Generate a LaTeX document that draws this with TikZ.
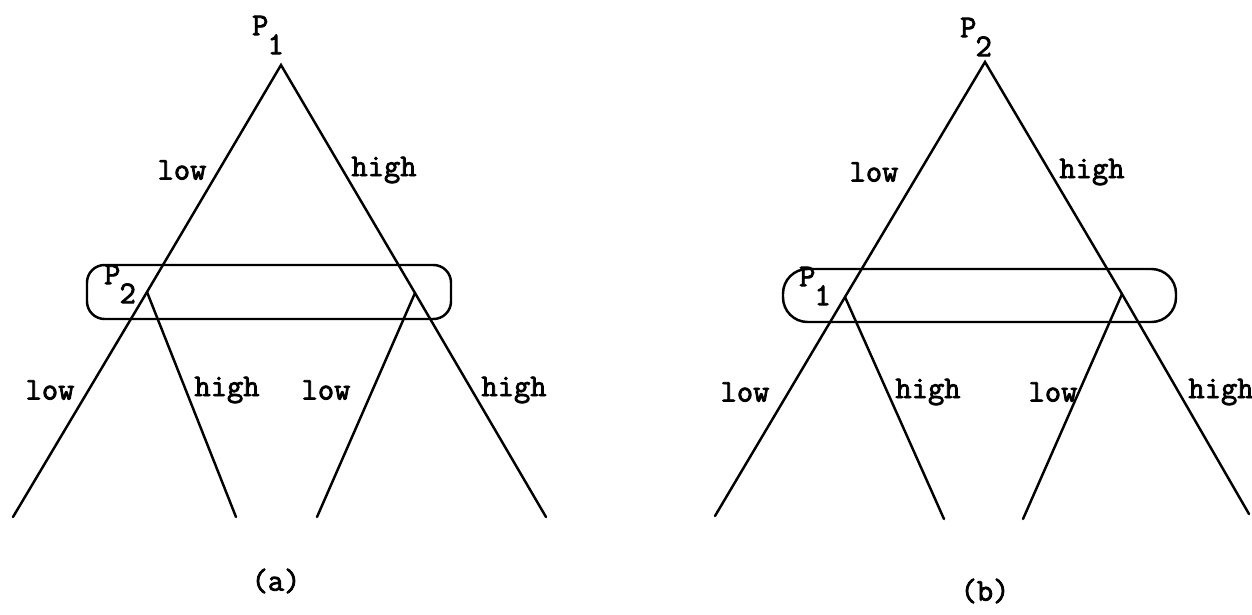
\documentclass[tikz,border=0pt]{standalone}
\usepackage{fontspec}
\newfontfamily\typew[FakeBold=2.5]{Latin Modern Mono}
\usetikzlibrary{positioning,calc}

\newcommand{\plr}[1]{P\kern-0.5pt\raisebox{-0.6em}{#1}}

\begin{document}
\begin{tikzpicture}[
  x=0.02cm,y=-0.02cm,
  edge/.style={line width=1.4pt,line cap=round},
  infoset/.style={draw,line width=1.4pt},
  lbl/.style={inner sep=0pt,font=\fontsize{18}{21}\selectfont\typew}
]
  \useasboundingbox (0,0) rectangle (1252,615);

  % (a): P1 moves first
  \coordinate (ra) at (281,65);
  \coordinate (la) at (147,292);
  \coordinate (ma) at (415,293);
  \coordinate (a1) at (13,517);
  \coordinate (a2) at (236,517);
  \coordinate (a3) at (317,517);
  \coordinate (a4) at (546,517);
  \draw[edge] (a1) -- (la) -- (ra) -- (ma) -- (a4);
  \draw[edge] (la) -- (a2);
  \draw[edge] (ma) -- (a3);
  \draw[infoset,rounded corners=10pt] (87,265) rectangle (451,319);

  \node[lbl] (pa)   at (268,35)  {\plr{1}};
  \node[lbl] (pa2)  at (120,284) {\plr{2}};
  \node[lbl] (lo1)  at (182,170) {low};
  \node[lbl] (hi1)  at (384,170) {high};
  \node[lbl] (lo2)  at (50,390)  {low};
  \node[lbl] (hi2)  at (227,390) {high};
  \node[lbl] (lo3)  at (326,390) {low};
  \node[lbl] (hi3)  at (514,390) {high};
  \node[lbl] (capa) at (276,581) {(a)};

  % (b): P2 moves first
  \coordinate (rb) at (985,62);
  \coordinate (lb) at (845,297);
  \coordinate (mb) at (1122,294);
  \coordinate (b1) at (715,516);
  \coordinate (b2) at (944,519);
  \coordinate (b3) at (1023,519);
  \coordinate (b4) at (1249,514);
  \draw[edge] (b1) -- (lb) -- (rb) -- (mb) -- (b4);
  \draw[edge] (lb) -- (b2);
  \draw[edge] (mb) -- (b3);
  \draw[infoset,rounded corners=14pt] (783,269) rectangle (1176,322);

  \node[lbl] (pb)   at (976,37)  {\plr{2}};
  \node[lbl] (pb1)  at (815,286) {\plr{1}};
  \node[lbl] (lo4)  at (874,172) {low};
  \node[lbl] (hi4)  at (1092,172) {high};
  \node[lbl] (lo5)  at (745,392) {low};
  \node[lbl] (hi5)  at (928,392) {high};
  \node[lbl] (lo6)  at (1053,392) {low};
  \node[lbl] (hi6)  at (1221,392) {high};
  \node[lbl] (capb) at (985,591) {(b)};
\end{tikzpicture}
\end{document}
